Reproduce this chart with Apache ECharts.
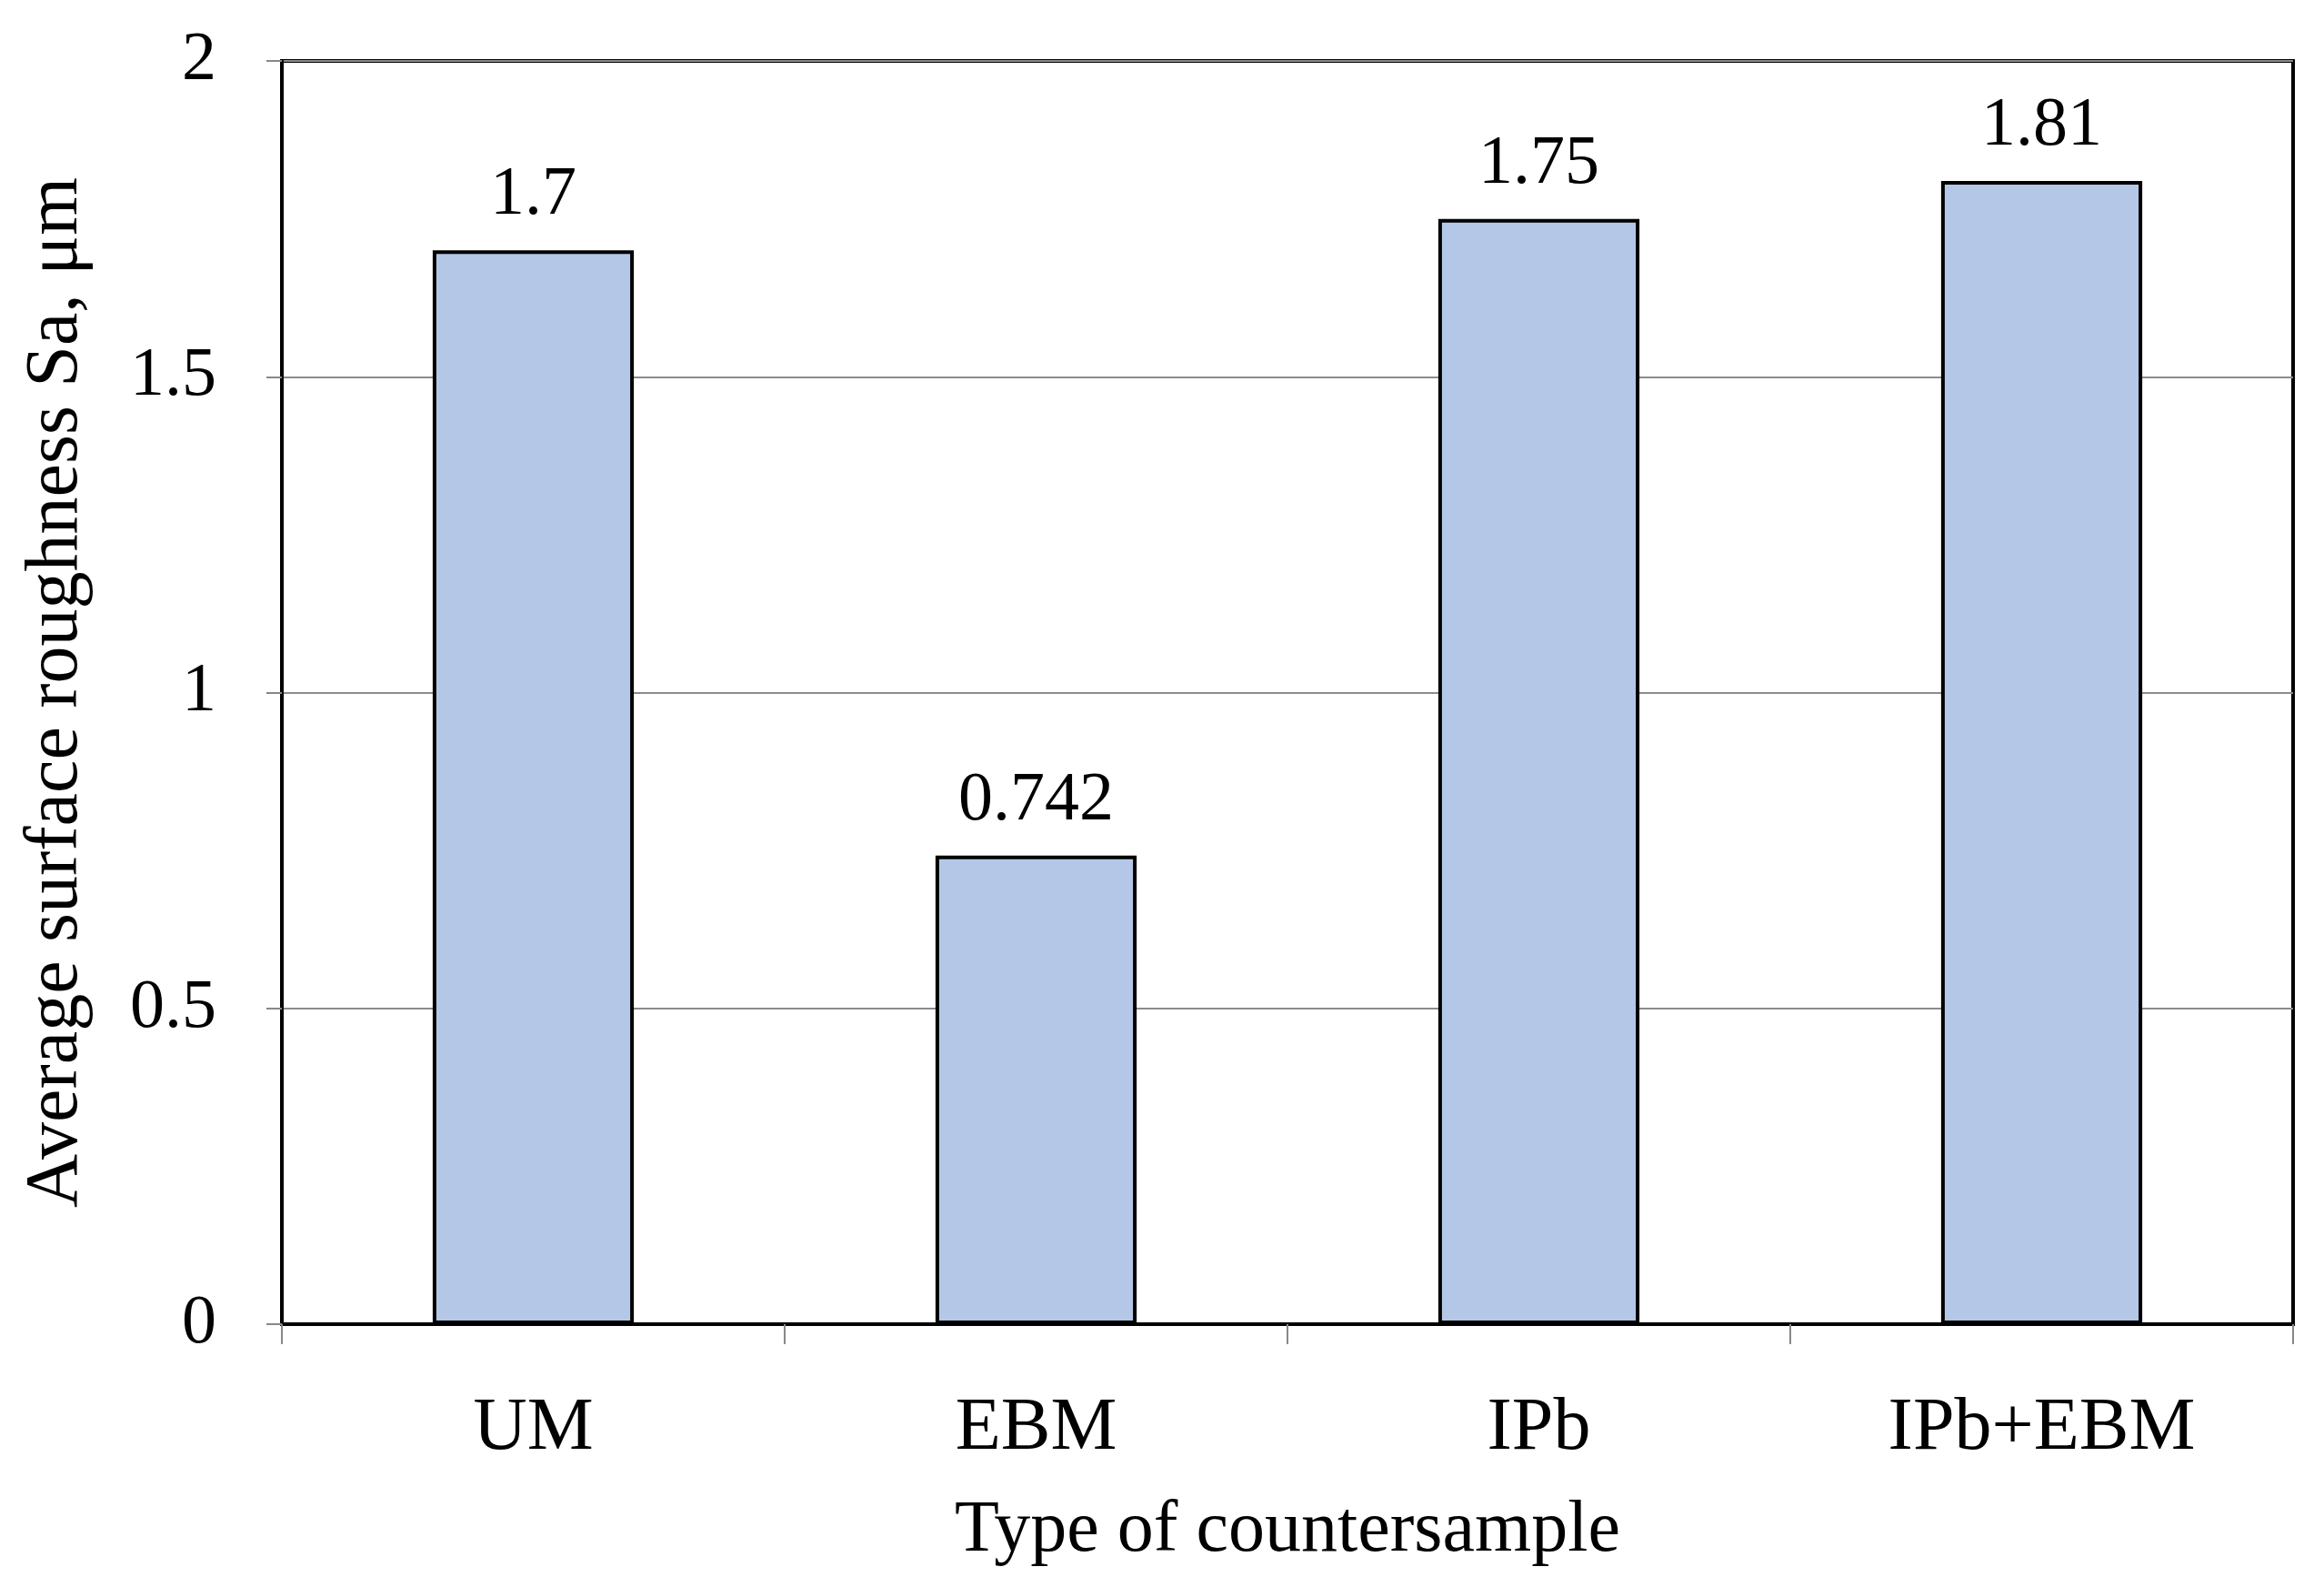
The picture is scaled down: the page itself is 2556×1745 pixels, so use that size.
<!DOCTYPE html>
<html>
<head>
<meta charset="utf-8">
<script src="https://cdn.jsdelivr.net/npm/echarts@6/dist/echarts.min.js"></script>
<style>
html,body{margin:0;padding:0;background:#fff;}
#chart{width:2556px;height:1745px;}
</style>
</head>
<body>
<div id="chart"></div>
<script>
const categories = ['UM', 'EBM', 'IPb', 'IPb+EBM'];
const roughness = [1.7, 0.742, 1.75, 1.81];
const yTicks = [0, 0.5, 1, 1.5, 2];

const FONT = '"Liberation Serif", "Times New Roman", serif';
const chart = echarts.init(document.getElementById('chart'));
chart.setOption({
  backgroundColor: '#ffffff',
  animation: false,
  grid: {
    left: 310, right: 34, top: 67, bottom: 289,
    show: true, borderColor: '#000', borderWidth: 4, backgroundColor: 'transparent'
  },
  xAxis: {
    type: 'category',
    data: categories,
    name: 'Type of countersample',
    nameLocation: 'middle',
    nameGap: 188,
    nameTextStyle: { fontFamily: FONT, fontSize: 80, color: '#000' },
    axisLine: { show: true, lineStyle: { color: '#000', width: 4 } },
    axisTick: { show: true, length: 22, lineStyle: { color: '#888', width: 2 } },
    axisLabel: { fontFamily: FONT, fontSize: 82, color: '#000', margin: 74 },
    splitLine: { show: false }
  },
  yAxis: {
    type: 'value',
    min: 0, max: 2, interval: 0.5,
    name: 'Average surface roughness Sa, μm',
    nameLocation: 'middle',
    nameGap: 207,
    nameTextStyle: { fontFamily: FONT, fontSize: 82, color: '#000' },
    axisLine: { show: true, lineStyle: { color: '#000', width: 3 } },
    axisTick: { show: true, length: 17, lineStyle: { color: '#888', width: 2 } },
    axisLabel: {
      fontFamily: FONT, fontSize: 76, color: '#000', margin: 72,
      formatter: function (v) { return yTicks.indexOf(v) >= 0 ? String(v) : ''; }
    },
    splitLine: { show: true, lineStyle: { color: '#8c8c8c', width: 2 } }
  },
  series: [{
    type: 'bar',
    data: roughness,
    barWidth: '40%',
    itemStyle: { color: '#b4c7e7', borderColor: '#000', borderWidth: 4 },
    label: {
      show: true, position: 'top', distance: 22,
      fontFamily: FONT, fontSize: 76, color: '#000',
      formatter: function (p) { return String(p.value); }
    }
  }]
});
</script>
</body>
</html>
